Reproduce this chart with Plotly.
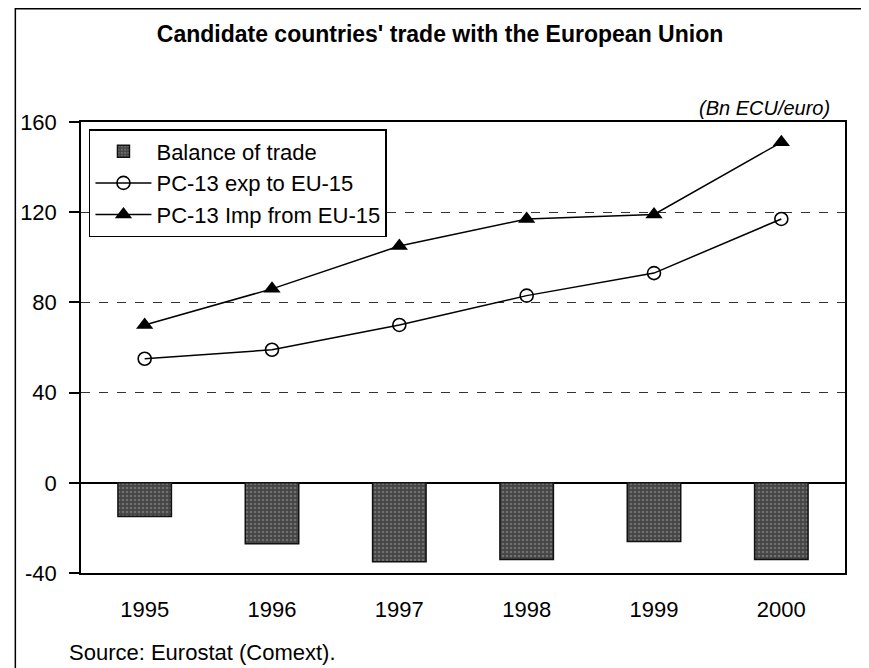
import plotly.graph_objects as go

years = ["1995", "1996", "1997", "1998", "1999", "2000"]
exports = [55, 59, 70, 83, 93, 117]
imports = [70, 86, 105, 117, 119, 151]
balance = [-15, -27, -35, -34, -26, -34]
y_ticks = [-40, 0, 40, 80, 120, 160]
y_tick_text = ["-40", "0", "40", "80", "120", "160"]

FONT = "Liberation Sans, Arial, sans-serif"

fig = go.Figure()
fig.add_trace(go.Bar(
    x=years, y=balance, name="Balance of trade",
    marker=dict(color="#505050", line=dict(color="#111111", width=1.5),
                pattern=dict(shape=".", fgcolor="#9a9a9a", bgcolor="#444444", size=4, solidity=0.35)),
))
fig.add_trace(go.Scatter(
    x=years, y=exports, name="PC-13 exp to EU-15", mode="lines+markers",
    line=dict(color="black", width=1.5),
    marker=dict(symbol="circle-open", size=13, color="black", line=dict(width=1.6)),
))
fig.add_trace(go.Scatter(
    x=years, y=imports, name="PC-13 Imp from EU-15", mode="lines+markers",
    line=dict(color="black", width=1.5),
    marker=dict(symbol="triangle-up", size=15, color="black"),
))

# page body has an 8px margin: work in screen pixels, shift by 8
OFF = 8
W, H = 869 - OFF, 668 - OFF
L, R, T, B = 77 - OFF, 845 - OFF, 122 - OFF, 573 - OFF
pw, ph = R - L, B - T

def px(x):
    return (x - OFF - L) / pw

def py(y):
    return (B - (y - OFF)) / ph

fig.update_layout(
    width=W, height=H,
    margin=dict(l=L, r=W - R, t=T, b=H - B),
    paper_bgcolor="white", plot_bgcolor="white",
    font=dict(family=FONT, size=22, color="black"),
    bargap=0.58,
    showlegend=True,
    legend=dict(x=px(85), y=py(129), xanchor="left", yanchor="top",
                bgcolor="white", bordercolor="black", borderwidth=1.5,
                font=dict(size=22, family=FONT), tracegroupgap=0,
                itemwidth=56),
    title=dict(text="<b>Candidate countries' trade with the European Union</b>",
               x=(440 - OFF) / W, xref="container", xanchor="center",
               y=1 - (34 - OFF) / H, yanchor="middle",
               font=dict(size=23, family=FONT)),
    xaxis=dict(type="category", showgrid=False, ticks="",
               showline=True, linecolor="black", linewidth=1.5, mirror=True,
               tickfont=dict(size=22), ticklabelstandoff=16),
    yaxis=dict(range=[-40, 160], tickvals=y_ticks, ticktext=y_tick_text,
               ticks="outside", ticklen=10,
               tickcolor="black", tickwidth=1.5, ticklabelstandoff=8,
               showline=True, linecolor="black", linewidth=1.5, mirror=True,
               showgrid=True, gridcolor="#333333", griddash="dash", gridwidth=1,
               zeroline=True, zerolinecolor="black", zerolinewidth=1.5,
               tickfont=dict(size=22)),
    annotations=[
        dict(text="<i>(Bn ECU/euro)</i>", xref="paper", yref="paper",
             x=px(832), y=py(108), xanchor="right", yanchor="middle",
             showarrow=False, font=dict(size=20, family=FONT)),
        dict(text="Source: Eurostat (Comext).", xref="paper", yref="paper",
             x=px(63), y=py(652), xanchor="left", yanchor="middle",
             showarrow=False, font=dict(size=22, family=FONT)),
    ],
    shapes=[
        dict(type="rect", xref="paper", yref="paper",
             x0=px(11), x1=px(866), y0=py(690), y1=py(8.8),
             line=dict(color="black", width=1.5), fillcolor="rgba(0,0,0,0)", layer="below"),
    ],
)

fig.write_html("out.html")
